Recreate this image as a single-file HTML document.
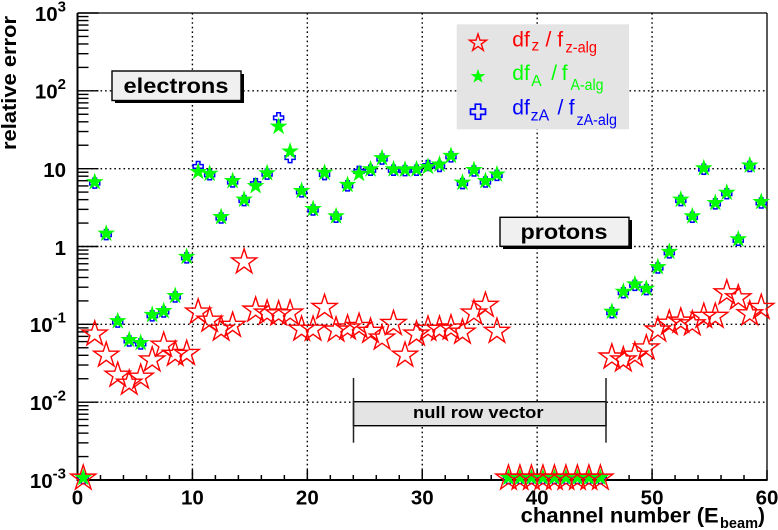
<!DOCTYPE html>
<html>
<head>
<meta charset="utf-8">
<title>Relative error per channel</title>
<style>
html,body{margin:0;padding:0;background:#fff;}
svg{display:block;font-family:"Liberation Sans",sans-serif;}
</style>
</head>
<body>
<svg id="chart" xmlns="http://www.w3.org/2000/svg" width="778" height="530" viewBox="0 0 778 530">
  <rect x="0" y="0" width="778" height="530" fill="#ffffff"/>
  <g id="grid"></g>
  <g id="axes"></g>
  <g id="bracket">
    <rect x="353.5" y="401.7" width="252.5" height="24" fill="#e4e4e4" stroke="#000" stroke-width="1.4"/>
    <line x1="353.5" y1="378" x2="353.5" y2="442.7" stroke="#222" stroke-width="1.5"/>
    <line x1="606" y1="378" x2="606" y2="442.7" stroke="#222" stroke-width="1.5"/>
    <text x="413" y="418" font-size="17" font-weight="bold" textLength="130.5" lengthAdjust="spacingAndGlyphs">null row vector</text>
  </g>
  <g id="series-blue"></g>
  <g id="series-green"></g>
  <g id="series-red"></g>
  <g>
    <rect x="115" y="74" width="129" height="29" fill="#000"/>
    <rect x="112" y="71" width="129" height="29.5" fill="#f0f0f0" stroke="#000" stroke-width="1.4"/>
    <text x="123.5" y="93" font-size="21.5" font-weight="bold" textLength="105" lengthAdjust="spacingAndGlyphs">electrons</text>
  </g>
  <g>
    <rect x="503" y="220" width="129" height="29" fill="#000"/>
    <rect x="500" y="217.3" width="129" height="29" fill="#f0f0f0" stroke="#000" stroke-width="1.4"/>
    <text x="520.5" y="239" font-size="21.5" font-weight="bold" textLength="87" lengthAdjust="spacingAndGlyphs">protons</text>
  </g>
  <g id="legend">
    <rect x="456.7" y="24.3" width="172.3" height="105" fill="#e4e4e4"/>
    <g fill="#ff0000">
      <text x="512.3" y="46.7" font-size="21">df</text>
      <text x="531.5" y="50.5" font-size="15.5">z</text>
      <text x="545.5" y="46.7" font-size="21">/</text>
      <text x="557.3" y="46.7" font-size="21">f</text>
      <text x="565.5" y="52.3" font-size="15.5" textLength="31.5" lengthAdjust="spacingAndGlyphs">z-alg</text>
    </g>
    <g fill="#00ff00">
      <text x="512.3" y="80" font-size="21">df</text>
      <text x="531.3" y="86" font-size="15.5">A</text>
      <text x="551.2" y="80" font-size="21">/</text>
      <text x="561.7" y="80" font-size="21">f</text>
      <text x="570.5" y="90" font-size="15.5" textLength="33" lengthAdjust="spacingAndGlyphs">A-alg</text>
    </g>
    <g fill="#0000ff">
      <text x="512.3" y="114.3" font-size="21">df</text>
      <text x="530.7" y="120.7" font-size="15.5" textLength="18.5" lengthAdjust="spacingAndGlyphs">zA</text>
      <text x="557.5" y="114.3" font-size="21">/</text>
      <text x="568.7" y="114.3" font-size="21">f</text>
      <text x="576.5" y="125" font-size="15.5" textLength="40.5" lengthAdjust="spacingAndGlyphs">zA-alg</text>
    </g>
    <g id="legend-markers"></g>
  </g>
  <text transform="translate(16,150) rotate(-90)" x="0" y="0" font-size="20.5" font-weight="bold" textLength="134" lengthAdjust="spacingAndGlyphs">relative error</text>
  <text x="520.7" y="522.7" font-size="21" font-weight="bold" textLength="198" lengthAdjust="spacingAndGlyphs">channel number (E</text>
  <text x="720" y="528" font-size="15" font-weight="bold" textLength="38" lengthAdjust="spacingAndGlyphs">beam</text>
  <text x="758" y="522.7" font-size="21" font-weight="bold">)</text>
</svg>
<script>
// ---- chart data ----
const channels = [0,1,2,3,4,5,6,7,8,9,10,11,12,13,14,15,16,17,18,19,20,21,22,23,24,25,26,27,28,29,30,31,32,33,34,35,36,37,38,39,40,41,42,43,44,45,46,47,48,49,50,51,52,53,54,55,56,57,58,59];
const dfzValues = [0.001,0.071,0.038,0.021,0.0166,0.0198,0.033,0.051,0.039,0.040,0.136,0.107,0.082,0.092,0.60,0.144,0.132,0.129,0.132,0.082,0.082,0.156,0.080,0.085,0.089,0.077,0.063,0.097,0.038,0.071,0.082,0.082,0.085,0.075,0.132,0.166,0.077,0.001,0.001,0.001,0.001,0.001,0.001,0.001,0.001,0.001,0.036,0.033,0.038,0.047,0.080,0.098,0.104,0.096,0.120,0.120,0.24,0.207,0.129,0.156];
const dfAValues = [0.001,6.3,1.37,0.103,0.059,0.054,0.124,0.139,0.217,0.69,8.5,8.05,2.24,6.5,3.75,5.6,8.2,32.5,15.6,4.85,2.84,8.3,2.29,5.8,8.05,9.2,12.8,9.2,9.1,9.2,9.9,10.6,13.7,6.2,9.0,6.5,7.9,0.001,0.001,0.001,0.001,0.001,0.001,0.001,0.001,0.001,0.136,0.246,0.306,0.269,0.51,0.80,3.75,2.29,9.5,3.4,4.6,1.16,10.3,3.5];
const dfzAValues = [0.001,6.3,1.37,0.103,0.059,0.054,0.124,0.139,0.217,0.69,10.3,8.05,2.24,6.5,3.75,6.2,8.2,43.5,13.4,4.85,2.84,8.1,2.29,5.8,8.9,9.2,12.8,9.2,9.1,9.2,10.6,10.3,13.7,6.2,9.0,6.5,7.9,0.001,0.001,0.001,0.001,0.001,0.001,0.001,0.001,0.001,0.136,0.246,0.306,0.269,0.51,0.80,3.75,2.29,9.5,3.4,4.6,1.16,10.3,3.5];
const xTickValues = [0,10,20,30,40,50,60];
const xTickLabels = ['0','10','20','30','40','50','60'];
const xMinorTicks = [2,4,6,8,12,14,16,18,22,24,26,28,32,34,36,38,42,44,46,48,52,54,56,58];
const yTickValues = [1000,100,10,1,0.1,0.01,0.001];
const yTickBases = ['10','10','10','1','10','10','10'];
const yTickExponents = ['3','2','','','-1','-2','-3'];
const yMinorFactors = [2,3,4,5,6,7,8,9];

// ---- axis functions ----
const SVGNS = 'http://www.w3.org/2000/svg';
const xMin = 0, xMax = 60, xLeft = 77.5, xRight = 767;
const logMin = -3, logMax = 3, yBottom = 480, yTop = 13;
function xScale(v){ return xLeft + (v - xMin) * (xRight - xLeft) / (xMax - xMin); }
function yScale(v){ return yBottom - (Math.log10(v) - logMin) * (yBottom - yTop) / (logMax - logMin); }
function make(tag, parent){
  const el = document.createElementNS(SVGNS, tag);
  parent.appendChild(el);
  return el;
}
function starPoints(cx, cy, R){
  const pts = [];
  for (let i = 0; i < 10; i++) {
    const r = i % 2 === 0 ? R : R * 0.382;
    const a = -Math.PI / 2 + i * Math.PI / 5;
    pts.push((cx + r * Math.cos(a)).toFixed(2) + ',' + (cy + r * Math.sin(a)).toFixed(2));
  }
  return pts.join(' ');
}
function plusPoints(cx, cy, S){
  const a = S, b = S * 0.36;
  const p = [[-b,-a],[b,-a],[b,-b],[a,-b],[a,b],[b,b],[b,a],[-b,a],[-b,b],[-a,b],[-a,-b],[-b,-b]];
  return p.map(function(q){ return (cx + q[0]).toFixed(2) + ',' + (cy + q[1]).toFixed(2); }).join(' ');
}

// ---- grid ----
const gridG = document.getElementById('grid');
xTickValues.forEach(function(v){
  if (v === xMin || v === xMax) return;
  const l = make('line', gridG);
  
  
  l.setAttribute('x1', xScale(v)); l.setAttribute('x2', xScale(v));
  l.setAttribute('y1', yTop); l.setAttribute('y2', yBottom);
  l.setAttribute('stroke', '#000'); l.setAttribute('stroke-width', '1.4');
  l.setAttribute('stroke-dasharray', '1.6 3');
});
yTickValues.forEach(function(v){
  if (v === 1000 || v === 0.001) return;
  const l = make('line', gridG);
  
  
  l.setAttribute('x1', xLeft); l.setAttribute('x2', xRight);
  l.setAttribute('y1', yScale(v)); l.setAttribute('y2', yScale(v));
  l.setAttribute('stroke', '#000'); l.setAttribute('stroke-width', '1.4');
  l.setAttribute('stroke-dasharray', '1.6 3');
});

// ---- axes ----
const axesG = document.getElementById('axes');
function axisLine(name, x1, y1, x2, y2, w){
  const l = make('line', axesG);
  
  
  l.setAttribute('x1', x1); l.setAttribute('y1', y1);
  l.setAttribute('x2', x2); l.setAttribute('y2', y2);
  l.setAttribute('stroke', '#000'); l.setAttribute('stroke-width', w);
}
axisLine('plot-frame-top', xLeft, yTop, xRight, yTop, 1.3);
axisLine('plot-frame-right', xRight, yTop, xRight, yBottom, 1.3);
axisLine('x-axis-line', xLeft - 1, yBottom, xRight + 0.6, yBottom, 2);
axisLine('y-axis-line', xLeft, yTop, xLeft, yBottom + 1, 2);
xTickValues.forEach(function(v, i){
  axisLine('x-major-tick', xScale(v), yBottom, xScale(v), yBottom - 10, 1.5);
  const t = make('text', axesG);
  
  
  t.setAttribute('x', xScale(v)); t.setAttribute('y', 504.5);
  t.setAttribute('text-anchor', 'middle');
  t.setAttribute('font-size', '20.5'); t.setAttribute('font-weight', 'bold');
  t.textContent = xTickLabels[i];
});
xMinorTicks.forEach(function(v){
  axisLine('x-minor-tick', xScale(v), yBottom, xScale(v), yBottom - 5, 1.5);
});
yTickValues.forEach(function(v, i){
  axisLine('y-major-tick', xLeft, yScale(v), xLeft + 21, yScale(v), 1.4);
  if (i < yTickValues.length - 1) {
    yMinorFactors.forEach(function(f){
      axisLine('y-minor-tick', xLeft, yScale(v / 10 * f), xLeft + 11, yScale(v / 10 * f), 1.4);
    });
  }
  const t = make('text', axesG);
  
  
  t.setAttribute('x', 66); t.setAttribute('y', yScale(v) + (yTickExponents[i] ? 7.8 : 8.5));
  t.setAttribute('text-anchor', 'end');
  t.setAttribute('font-size', '20.5'); t.setAttribute('font-weight', 'bold');
  const base = make('tspan', t);
  base.textContent = yTickBases[i];
  if (yTickExponents[i]) {
    const sup = make('tspan', t);
    sup.setAttribute('dy', '-9.5');
    sup.setAttribute('font-size', '15');
    sup.textContent = yTickExponents[i];
  }
});

// ---- series ----
const blueG = document.getElementById('series-blue');
dfzAValues.forEach(function(v, i){
  const p = make('polygon', blueG);
  
  
  p.setAttribute('points', plusPoints(xScale(channels[i] + 0.5), yScale(v) - 1.2, 5));
  p.setAttribute('fill', 'none');
  p.setAttribute('stroke', '#0000ff');
  p.setAttribute('stroke-width', '1.5');
});
const greenG = document.getElementById('series-green');
dfAValues.forEach(function(v, i){
  const p = make('polygon', greenG);
  
  
  p.setAttribute('points', starPoints(xScale(channels[i] + 0.5), yScale(v) - 2.3, 8.2));
  p.setAttribute('fill', '#00ff00');
  p.setAttribute('stroke', '#00ff00');
  p.setAttribute('stroke-width', '0.7');
});
const redG = document.getElementById('series-red');
dfzValues.forEach(function(v, i){
  const p = make('polygon', redG);
  
  
  p.setAttribute('points', starPoints(xScale(channels[i] + 0.5), yScale(v) - 1.8, 13.2));
  p.setAttribute('fill', 'none');
  p.setAttribute('stroke', '#ff0000');
  p.setAttribute('stroke-width', '1.4');
});

// ---- legend markers ----
const legendG = document.getElementById('legend-markers');
const legendStar = make('polygon', legendG);


legendStar.setAttribute('points', starPoints(478, 43, 9));
legendStar.setAttribute('fill', 'none');
legendStar.setAttribute('stroke', '#ff0000');
legendStar.setAttribute('stroke-width', '1.4');
const legendGreen = make('polygon', legendG);


legendGreen.setAttribute('points', starPoints(478, 76.5, 7.8));
legendGreen.setAttribute('fill', '#00ff00');
const legendPlus = make('polygon', legendG);


legendPlus.setAttribute('points', plusPoints(478, 111.7, 7.5));
legendPlus.setAttribute('fill', 'none');
legendPlus.setAttribute('stroke', '#0000ff');
legendPlus.setAttribute('stroke-width', '1.7');
</script>
</body>
</html>
